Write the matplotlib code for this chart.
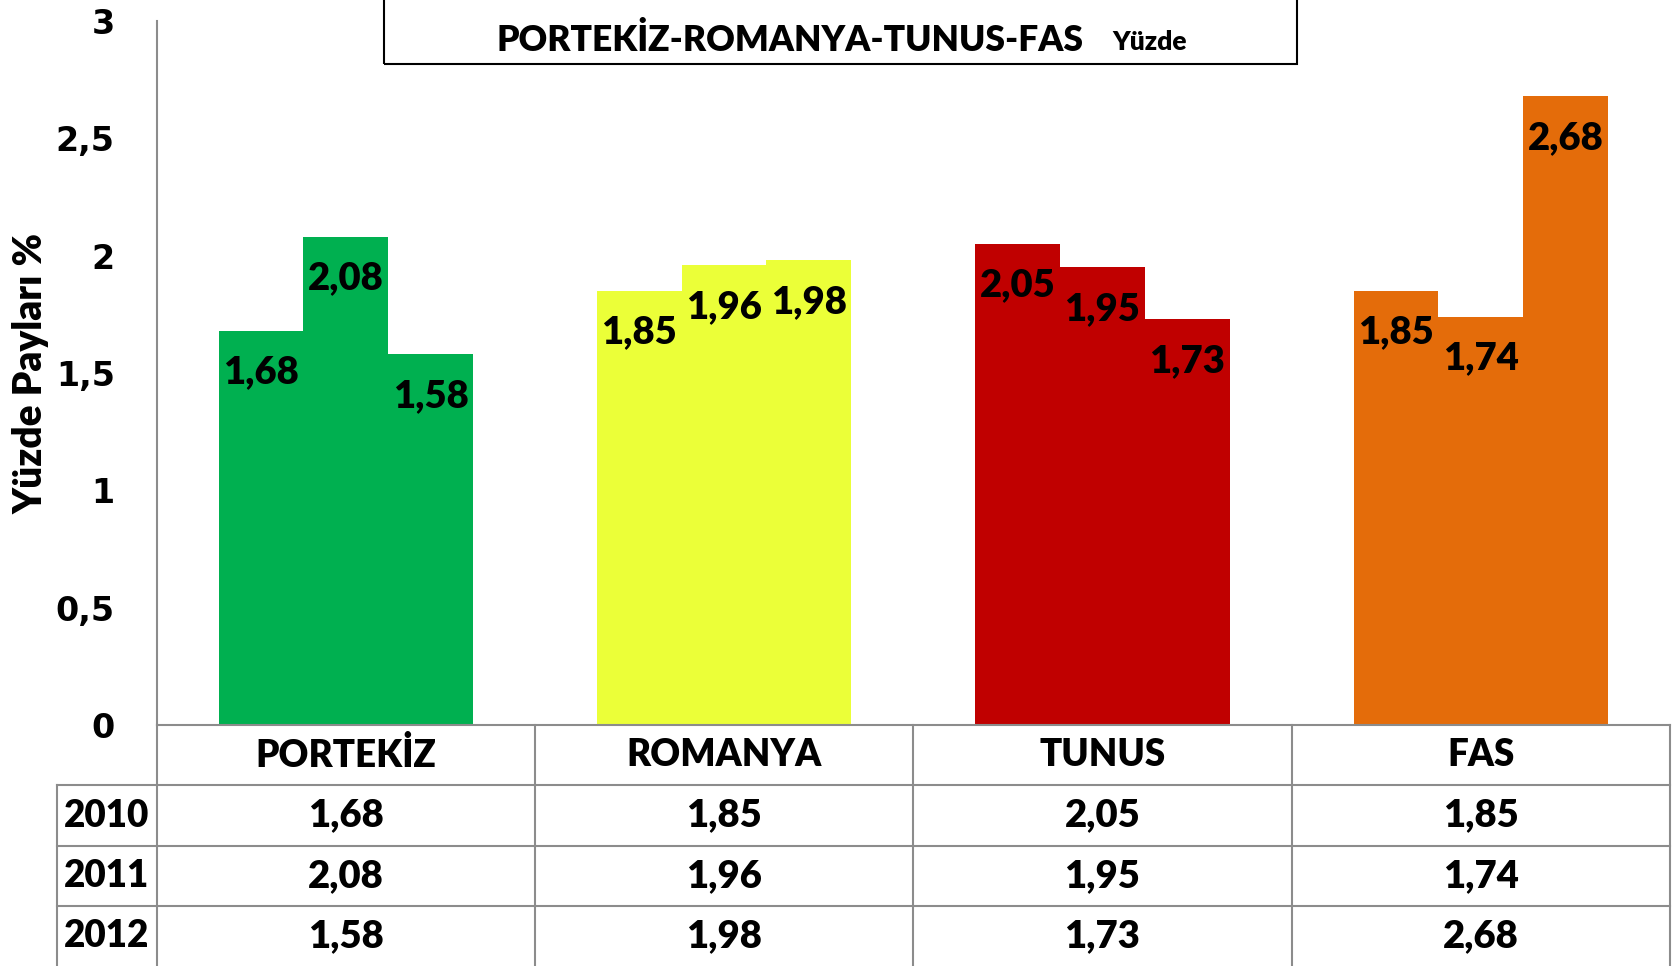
import matplotlib
matplotlib.use("Agg")
import matplotlib.pyplot as plt
from matplotlib.patches import Rectangle
import numpy as np

countries = ["PORTEKİZ", "ROMANYA", "TUNUS", "FAS"]
years = ["2010", "2011", "2012"]
v2010 = [1.68, 1.85, 2.05, 1.85]
v2011 = [2.08, 1.96, 1.95, 1.74]
v2012 = [1.58, 1.98, 1.73, 2.68]
colors = ["#00B050", "#EBFF38", "#C00000", "#E46C0A"]
yticks = [0, 0.5, 1, 1.5, 2, 2.5, 3]

NARROW = ["Lato", "DejaVu Sans"]
WT = "heavy"
W, H = 1681, 966
fig = plt.figure(figsize=(W / 100, H / 100), dpi=100)
fig.patch.set_facecolor("white")

def fx(px):
    return px / W

def fy(py):
    return 1 - py / H

def fmt(v):
    return ("%.2f" % v).replace(".", ",")

# main chart area
left, right, top, zero = 156.5, 1670, 21, 725
ax = fig.add_axes([fx(left), fy(zero), fx(right - left), (zero - top) / H])
x = np.arange(len(countries))
bw = 0.224
series = [v2010, v2011, v2012]
for i, vals in enumerate(series):
    off = (i - 1) * bw
    ax.bar(x + off, vals, bw, color=colors, linewidth=0)
    for xi, v in zip(x, vals):
        ax.annotate(fmt(v), (xi + off, v), xytext=(0, -30), textcoords="offset points",
                    ha="center", va="center", fontsize=27.5, fontweight=WT,
                    family=NARROW, color="black")

ax.set_xlim(-0.5, 3.5)
ax.set_ylim(0, 3)
ax.set_yticks(yticks)
ax.set_yticklabels([("%g" % t).replace(".", ",") for t in yticks],
                   fontsize=24, fontweight="bold", family="DejaVu Sans")
ax.tick_params(axis="y", length=0, pad=30)
ax.set_xticks([])
for s in ["top", "right"]:
    ax.spines[s].set_visible(False)
ax.spines["left"].set_color("#8c8c8c")
ax.spines["bottom"].set_color("#8c8c8c")
ax.spines["left"].set_linewidth(1.5)
ax.spines["bottom"].set_linewidth(1.5)
ax.set_ylabel("Yüzde Payları %", fontsize=28, fontweight=WT, family=NARROW)
ax.yaxis.set_label_coords((50 - left) / (right - left), 0.5)

# data table under the chart
tab = fig.add_axes([fx(left), 0, fx(right - left), (H - zero) / H])
tab.set_xlim(-0.5, 3.5)
tab.set_ylim(3.99, 0)
tab.axis("off")
lc = "#8c8c8c"
ycol = -0.5 - (left - 57) / ((right - left) / 4)
for xv in np.arange(-0.5, 4.0, 1.0):
    tab.plot([xv, xv], [0, 4], color=lc, lw=1.5, clip_on=False)
tab.plot([ycol, ycol], [1, 4], color=lc, lw=1.5, clip_on=False)
for yv in [1, 2, 3]:
    tab.plot([ycol, 3.5], [yv, yv], color=lc, lw=1.5, clip_on=False)
for xi, c in zip(x, countries):
    tab.text(xi, 0.5, c, ha="center", va="center", fontsize=26.5, fontweight=WT, family=NARROW)
for r, (yr, vals) in enumerate(zip(years, series)):
    tab.text((ycol - 0.5) / 2, r + 1.5, yr, ha="center", va="center", fontsize=26.5,
             fontweight=WT, family=NARROW, clip_on=False)
    for xi, v in zip(x, vals):
        tab.text(xi, r + 1.5, fmt(v), ha="center", va="center", fontsize=27.5,
                 fontweight=WT, family=NARROW)

# title box
fig.patches.append(Rectangle((fx(384), fy(64)), fx(1297 - 384), 64 / H + 0.01,
                             transform=fig.transFigure, fill=False, edgecolor="black", lw=1.5))
fig.text(fx(790), fy(40), "PORTEKİZ-ROMANYA-TUNUS-FAS", ha="center", va="center",
         fontsize=25.5, fontweight=WT, family=NARROW)
fig.text(fx(1150), fy(42), "Yüzde", ha="center", va="center",
         fontsize=19, fontweight=WT, family=NARROW)

fig.savefig("out.png", dpi=100)
